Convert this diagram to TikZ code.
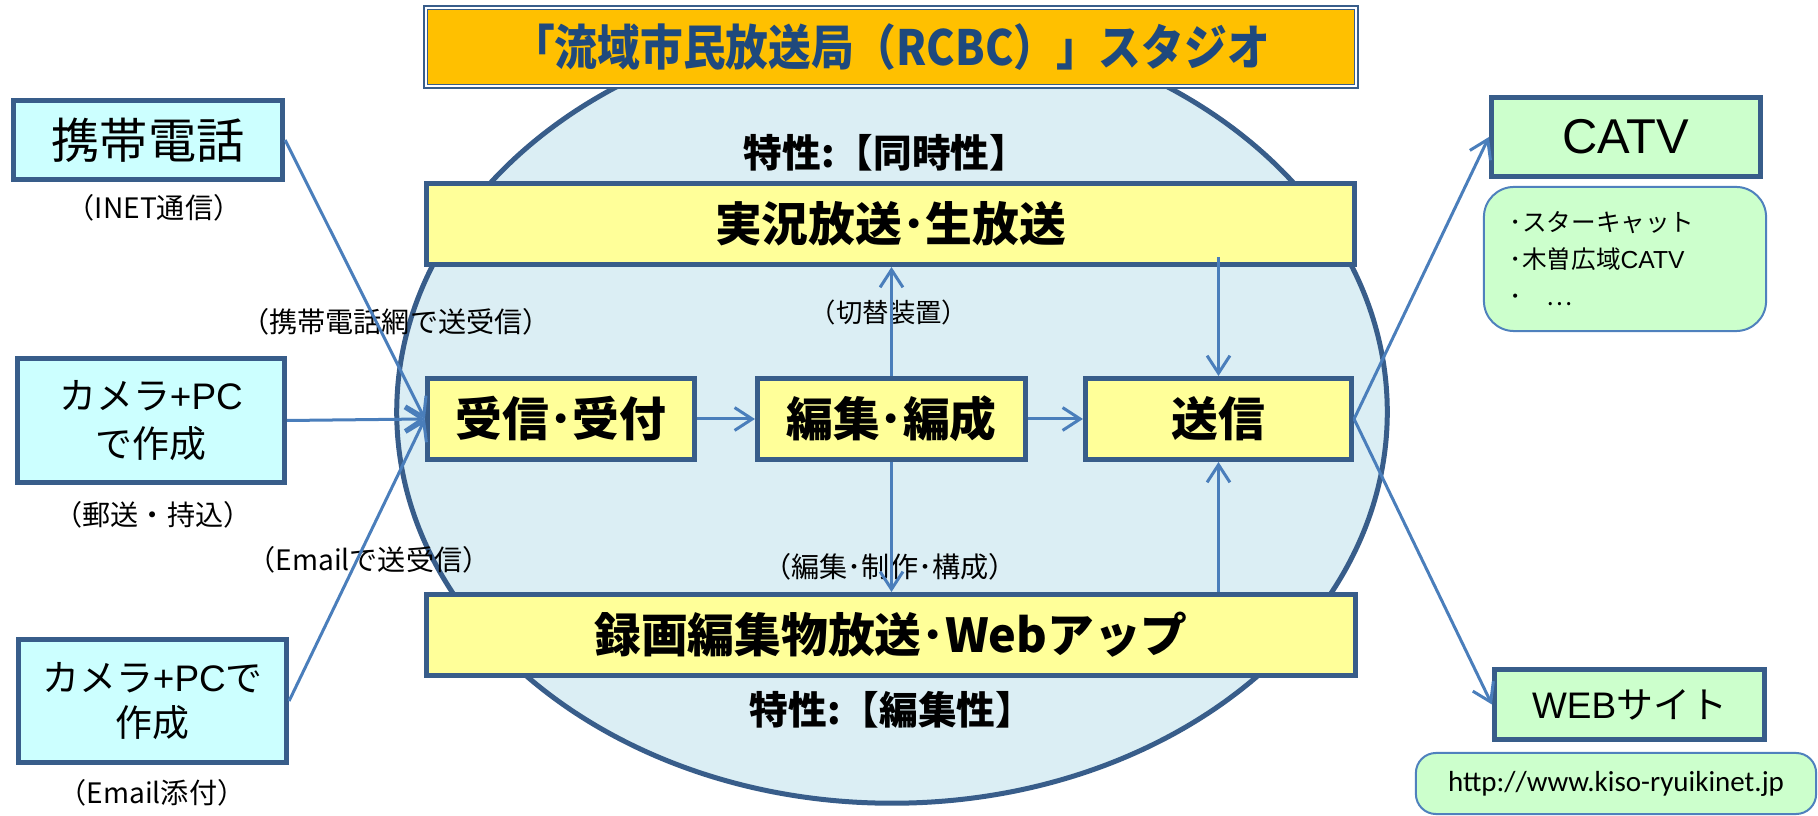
\documentclass[tikz,border=0pt]{standalone}
\usepackage{fontspec}
\setmainfont{Noto Sans CJK JP}
\newfontfamily\latf{Liberation Sans}
\newfontfamily\condf[FakeStretch=0.88]{Noto Sans CJK JP}
\newfontfamily\calf{Carlito}
\usetikzlibrary{arrows.meta,shapes.geometric}
\definecolor{bord}{HTML}{385D8A}
\definecolor{arrc}{HTML}{4A7EBB}
\definecolor{ellfill}{HTML}{DBEEF4}
\definecolor{cyanfill}{HTML}{CCFFFF}
\definecolor{yel}{HTML}{FFFF99}
\definecolor{grn}{HTML}{CCFFCC}
\definecolor{titlefill}{HTML}{FFC000}
\definecolor{titletext}{HTML}{1F497D}
\definecolor{lightbord}{HTML}{4F81BD}
\begin{document}
\begin{tikzpicture}[x=0.01cm,y=-0.01cm,
  srcbox/.style={draw=bord,line width=0.05cm,fill=cyanfill,inner sep=0pt,align=center},
  ybox/.style={draw=bord,line width=0.05cm,fill=yel,inner sep=0pt,minimum height=0.81cm,
     font=\fontsize{13.3}{15}\selectfont\bfseries},
  gbox/.style={draw=bord,line width=0.05cm,fill=grn,inner sep=0pt},
  rbox/.style={draw=lightbord,line width=0.02cm,fill=grn,rounded corners=0.3cm,inner sep=0pt},
  lbl/.style={inner sep=0pt,font=\fontsize{8}{10}\selectfont},
  feat/.style={inner sep=0pt,font=\fontsize{11}{13}\selectfont\bfseries},
  conn/.style={draw=arrc,line width=0.03cm,-{Straight Barb[length=5pt,width=6.5pt]}}
]
\useasboundingbox (0,0) rectangle (1818,816);
% stage ellipse
\node[ellipse,draw=bord,line width=0.05cm,fill=ellfill,minimum width=9.9cm,minimum height=7.82cm,inner sep=0pt] (stage) at (892,412) {};
% title
\node[draw=bord,double=white,double distance=0.02cm,line width=0.015cm,fill=titlefill,
  minimum width=9.30cm,minimum height=0.78cm,inner sep=0pt,text=titletext,
  font=\fontsize{13.8}{16}\selectfont\condf\bfseries] (title) at (891,47) {「流域市民放送局（RCBC）」スタジオ};
% features
\node[feat] (feat1) at (886,153) {特性:【同時性】};
\node[feat] (feat2) at (892,710) {特性:【編集性】};
% yellow boxes
\node[ybox,minimum width=9.28cm] (jikkyo) at (890.5,224) {実況放送･生放送};
\node[ybox,minimum width=2.67cm] (uke) at (561,419) {受信･受付};
\node[ybox,minimum width=2.68cm] (hen) at (891.5,419) {編集･編成};
\node[ybox,minimum width=2.66cm] (sou) at (1218.5,419) {送信};
\node[ybox,minimum width=9.29cm] (roku) at (891,635) {録画編集物放送･Webアップ};
% source boxes
\node[srcbox,minimum width=2.69cm,minimum height=0.79cm,font=\fontsize{13.7}{16}\selectfont] (keitai) at (148,140) {携帯電話};
\node[srcbox,minimum width=2.67cm,minimum height=1.24cm,font=\fontsize{10.5}{13.6}\selectfont] (cam1) at (151,420.5) {カメラ{\latf +PC}\\で作成};
\node[srcbox,minimum width=2.68cm,minimum height=1.23cm,font=\fontsize{10.5}{12.8}\selectfont] (cam2) at (152.5,701) {カメラ{\latf +PC}で\\作成};
\node[lbl] (l1) at (154,208) {（INET通信）};
\node[lbl] (l2) at (153,515) {（郵送・持込）};
\node[lbl] (l3) at (152,793) {（Email添付）};
\node[lbl] (l4) at (396,322) {（携帯電話網で送受信）};
\node[lbl] (l5) at (369,560) {（Emailで送受信）};
\node[lbl,font=\fontsize{7.5}{10}\selectfont] (l6) at (889,312) {（切替装置）};
\node[lbl] (l7) at (890,567) {（編集･制作･構成）};
% output boxes
\node[gbox,minimum width=2.69cm,minimum height=0.79cm,font=\fontsize{13.9}{16}\selectfont\latf] (catv) at (1626,137) {CATV};
\node[rbox,minimum width=2.82cm,minimum height=1.44cm,text width=2.3cm,align=left,
  font=\fontsize{7}{10.5}\selectfont] (catvlist) at (1625,259) {･スターキャット\\･木曽広域{\latf CATV}\\･\ \ \ …};
\node[gbox,minimum width=2.70cm,minimum height=0.70cm,font=\fontsize{10.5}{13}\selectfont] (web) at (1629.5,704.5) {{\latf WEB}サイト};
\node[rbox,rounded corners=0.2cm,minimum width=4.0cm,minimum height=0.61cm,font=\fontsize{8.25}{10}\selectfont\calf] (url) at (1616,783.5) {http://www.kiso-ryuikinet.jp};
% connectors
\draw[conn] (keitai.east) -- (uke.west);
\draw[conn] (cam1.east) -- (uke.west);
\draw[conn] (cam2.east) -- (uke.west);
\draw[conn] (uke.east) -- (hen.west);
\draw[conn] (hen.east) -- (sou.west);
\draw[conn] (hen.north) -- (jikkyo.south -| hen.north);
\draw[conn] (hen.south) -- (roku.north -| hen.south);
\draw[conn] ([yshift=0.1cm]jikkyo.south -| sou.north) -- (sou.north);
\draw[conn] (roku.north -| sou.south) -- (sou.south);
\draw[conn] (sou.east) -- (catv.west);
\draw[conn] (sou.east) -- (web.west);
\end{tikzpicture}
\end{document}
